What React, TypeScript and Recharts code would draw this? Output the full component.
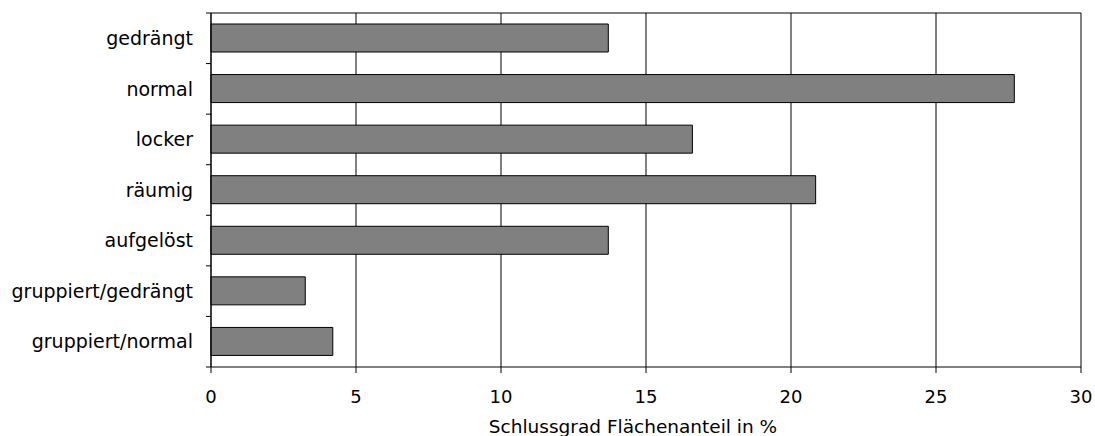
import { BarChart, Bar, XAxis, YAxis, CartesianGrid } from 'recharts'

const categories = [
  'gedrängt',
  'normal',
  'locker',
  'räumig',
  'aufgelöst',
  'gruppiert/gedrängt',
  'gruppiert/normal',
]
const anteil = [13.7, 27.7, 16.6, 20.85, 13.7, 3.25, 4.2]
const xTicks = [0, 5, 10, 15, 20, 25, 30]

const data = categories.map((name, i) => ({ name, value: anteil[i] }))

const FONT = '"DejaVu Sans", Verdana, sans-serif'

// category label plus a short tick mark on each band boundary (Excel style)
function CategoryTick(props: any) {
  const { x, y, payload, index, visibleTicksCount } = props
  const half = payload.offset ?? 0
  const axisX = x + 18
  return (
    <g>
      <text
        x={x}
        y={y}
        dy="0.35em"
        textAnchor="end"
        fontSize={19}
        fontFamily={FONT}
        fill="#000"
      >
        {payload.value}
      </text>
      <line x1={axisX - 5} x2={axisX} y1={y - half} y2={y - half} stroke="#000" />
      {index === visibleTicksCount - 1 && (
        <line x1={axisX - 5} x2={axisX} y1={y + half} y2={y + half} stroke="#000" />
      )}
    </g>
  )
}

export default function App() {
  return (
    <div style={{ position: 'absolute', left: 0, top: 0, background: '#fff' }}>
      <BarChart
        width={1095}
        height={436}
        data={data}
        layout="vertical"
        margin={{ top: 12, right: 14, bottom: 0, left: 0 }}
      >
        <CartesianGrid horizontal={false} stroke="#000" />
        <XAxis
          type="number"
          domain={[0, 30]}
          ticks={xTicks}
          interval={0}
          height={69}
          tickSize={6}
          tickMargin={17}
          stroke="#000"
          tick={{ fill: '#000', fontSize: 18, fontFamily: FONT }}
          label={{
            value: 'Schlussgrad Flächenanteil in %',
            position: 'insideBottom',
            offset: 3,
            dx: -13,
            fill: '#000',
            fontSize: 18.5,
            fontFamily: FONT,
          }}
        />
        <XAxis
          xAxisId="top"
          orientation="top"
          type="number"
          domain={[0, 30]}
          height={1}
          tick={false}
          tickLine={false}
          stroke="#000"
        />
        <YAxis
          type="category"
          dataKey="name"
          width={211}
          tickSize={0}
          tickMargin={18}
          interval={0}
          stroke="#000"
          tick={<CategoryTick />}
        />
        <Bar
          dataKey="value"
          fill="#808080"
          stroke="#000"
          strokeWidth={1}
          barSize={28}
          isAnimationActive={false}
        />
      </BarChart>
    </div>
  )
}
